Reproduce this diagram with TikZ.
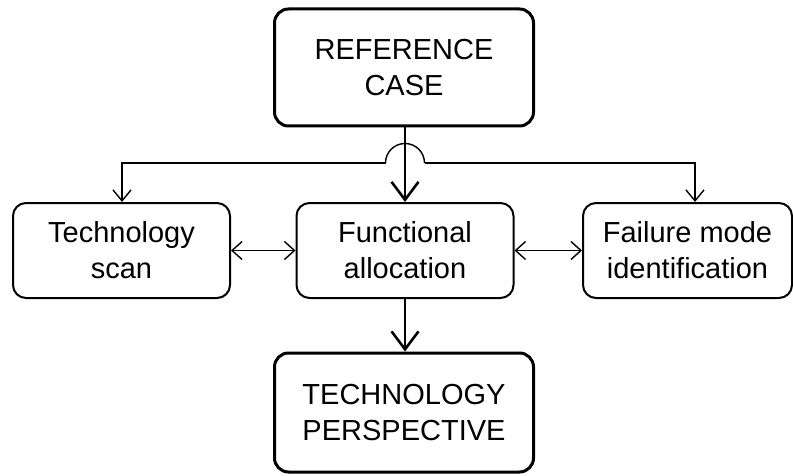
\documentclass[tikz,border=0pt]{standalone}
\usepackage{fontspec}
\setmainfont{Liberation Sans}
\usetikzlibrary{arrows.meta}

\tikzset{
  every node/.style={font=\fontsize{29}{36}\selectfont, align=center, inner sep=0pt},
  majorbox/.style={draw, line width=3pt, rounded corners=14pt, minimum width=259pt},
  minorbox/.style={draw, line width=2pt, rounded corners=13pt, minimum height=95pt},
  thinline/.style={line width=1.4pt},
  thinarrow/.style={thinline, -{Straight Barb[length=11pt,width=18pt]}},
  twoway/.style={thinline, {Straight Barb[length=10pt,width=18pt]}-{Straight Barb[length=10pt,width=18pt]}},
  thickarrow/.style={line width=2.6pt, -{Straight Barb[length=18pt,width=27pt]}}
}

\begin{document}
\begin{tikzpicture}[x=1pt, y=1pt]
  \useasboundingbox (0,0) rectangle (793,475);

  % main boxes
  \node[majorbox, minimum height=117pt] (ref) at (404,407.5) {REFERENCE\\CASE};
  \node[majorbox, minimum height=119pt] (persp) at (404,62.5) {TECHNOLOGY\\PERSPECTIVE};

  % middle row
  \node[minorbox, minimum width=217pt] (scan) at (121.5,224.5) {Technology\\scan};
  \node[minorbox, minimum width=217pt] (func) at (405,224.5) {Functional\\allocation};
  \node[minorbox, minimum width=209pt] (fail) at (687.5,224.5) {Failure mode\\identification};

  % branch line with a hop over the main arrow
  \coordinate (hopL) at (385.5,312);
  \coordinate (hopR) at (424.5,312);
  \coordinate (rdrop) at (695,312);
  \coordinate (ldrop) at (122,312);
  \draw[thinline] (hopL) arc[start angle=180, end angle=0, radius=19.5];
  \draw[thinarrow] (hopL) -- (ldrop) -- (ldrop |- scan.north);
  \draw[thinarrow] (hopR) -- (rdrop) -- (rdrop |- fail.north);

  % main flow
  \draw[thickarrow] (ref.south -| func.north) -- (func.north);
  \draw[thickarrow] (func.south) -- (func.south |- persp.north);

  % side links
  \draw[twoway] (scan.east) -- (func.west);
  \draw[twoway] (func.east) -- (fail.west);
\end{tikzpicture}
\end{document}
